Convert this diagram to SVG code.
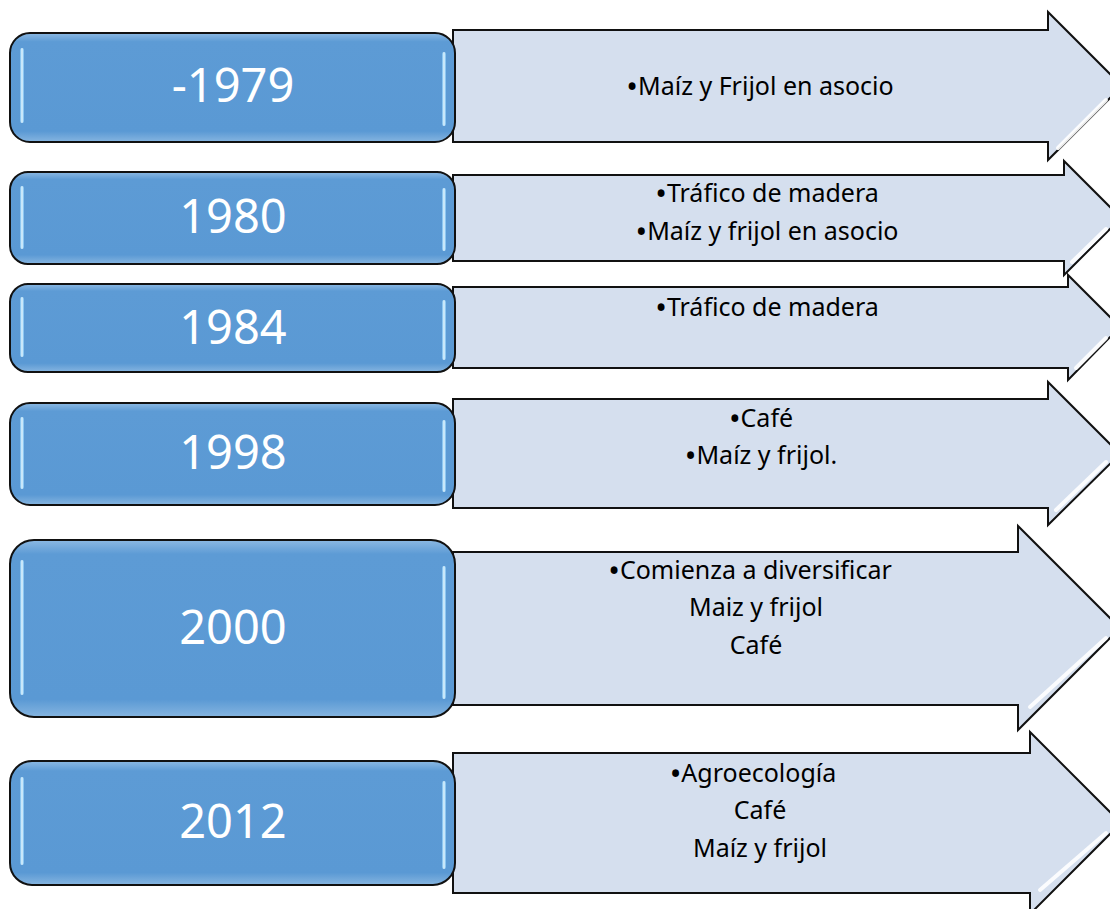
<svg xmlns="http://www.w3.org/2000/svg" width="1110" height="909" viewBox="0 0 1110 909">
<defs>
<linearGradient id="boxg" x1="0" y1="0" x2="0" y2="1">
<stop offset="0" stop-color="#8cb9e3"/>
<stop offset="0.08" stop-color="#5d9bd5"/>
<stop offset="0.9" stop-color="#5a99d4"/>
<stop offset="1" stop-color="#86b5e0"/>
</linearGradient>
<linearGradient id="barg" x1="0" y1="0" x2="1" y2="0">
<stop offset="0" stop-color="#6fb6ec"/>
<stop offset="0.5" stop-color="#e6f8ff"/>
<stop offset="1" stop-color="#6fb6ec"/>
</linearGradient>
<style>
.box{fill:url(#boxg);stroke:#111;stroke-width:2}
.bar{fill:url(#barg)}
.arr{fill:#d5dfee;stroke:#111;stroke-width:2;stroke-linejoin:miter}
.gl{fill:none;stroke:#ffffff;stroke-width:4;stroke-linecap:round;opacity:0.9}
.yr{font-family:"Noto Sans","Open Sans",sans-serif;font-size:47px;fill:#ffffff;text-anchor:middle}
.tx{font-family:"Noto Sans","Open Sans",sans-serif;font-size:25px;fill:#000000;text-anchor:middle}
.b{font-size:31px}
</style>
</defs>
<rect width="1110" height="909" fill="#ffffff"/>

<g id="row1">
<path class="arr" d="M453,30 H1048 V12 L1122,86 L1048,160 V142 H453 Z"/>
<path class="gl" d="M1058,148 L1106,100"/>
<rect class="box" x="10" y="33" width="445" height="109" rx="20"/>
<rect class="bar" x="20" y="48" width="4" height="75" rx="2"/>
<rect class="bar" x="442" y="52" width="4" height="74" rx="2"/>
<text class="yr" x="233" y="102">-1979</text>
<text class="tx" x="760" y="95"><tspan class="b" dy="3">•</tspan><tspan dy="-3">Maíz y Frijol en asocio</tspan></text>
</g>

<g id="row2">
<path class="arr" d="M453,175 H1064 V161 L1121,218 L1064,275 V261 H453 Z"/>
<path class="gl" d="M1072,262 L1106,229"/>
<rect class="box" x="10" y="172" width="445" height="92" rx="18"/>
<rect class="bar" x="20" y="186" width="4" height="63" rx="2"/>
<rect class="bar" x="442" y="188" width="4" height="63" rx="2"/>
<text class="yr" x="233" y="233">1980</text>
<text class="tx" x="767" y="202"><tspan class="b" dy="3">•</tspan><tspan dy="-3">Tráfico de madera</tspan></text>
<text class="tx" x="767" y="240"><tspan class="b" dy="3">•</tspan><tspan dy="-3">Maíz y frijol en asocio</tspan></text>
</g>

<g id="row3">
<path class="arr" d="M453,287 H1068 V275 L1120,327 L1068,380 V368 H453 Z"/>
<path class="gl" d="M1076,368 L1106,338"/>
<rect class="box" x="10" y="284" width="445" height="88" rx="18"/>
<rect class="bar" x="20" y="297" width="4" height="60" rx="2"/>
<rect class="bar" x="442" y="300" width="4" height="60" rx="2"/>
<text class="yr" x="233" y="344">1984</text>
<text class="tx" x="767" y="316"><tspan class="b" dy="3">•</tspan><tspan dy="-3">Tráfico de madera</tspan></text>
</g>

<g id="row4">
<path class="arr" d="M453,399 H1048 V382 L1120,454 L1048,525 V508 H453 Z"/>
<path class="gl" d="M1056,510 L1106,462"/>
<rect class="box" x="10" y="403" width="445" height="102" rx="20"/>
<rect class="bar" x="20" y="417" width="4" height="72" rx="2"/>
<rect class="bar" x="442" y="420" width="4" height="72" rx="2"/>
<text class="yr" x="233" y="469">1998</text>
<text class="tx" x="761" y="427"><tspan class="b" dy="3">•</tspan><tspan dy="-3">Café</tspan></text>
<text class="tx" x="761" y="464"><tspan class="b" dy="3">•</tspan><tspan dy="-3">Maíz y frijol.</tspan></text>
</g>

<g id="row5">
<path class="arr" d="M453,552 H1018 V526 L1120,628 L1018,730 V705 H453 Z"/>
<path class="gl" d="M1030,707 L1106,638"/>
<rect class="box" x="10" y="540" width="445" height="177" rx="24"/>
<rect class="bar" x="20" y="560" width="4" height="135" rx="2"/>
<rect class="bar" x="442" y="566" width="4" height="133" rx="2"/>
<text class="yr" x="233" y="644">2000</text>
<text class="tx" x="750" y="579"><tspan class="b" dy="3">•</tspan><tspan dy="-3">Comienza a diversificar</tspan></text>
<text class="tx" x="756" y="616">Maiz y frijol</text>
<text class="tx" x="756" y="654">Café</text>
</g>

<g id="row6">
<path class="arr" d="M453,753 H1030 V732 L1121,823 L1030,914 V893 H453 Z"/>
<path class="gl" d="M1040,890 L1106,833"/>
<rect class="box" x="10" y="761" width="445" height="124" rx="22"/>
<rect class="bar" x="20" y="777" width="4" height="88" rx="2"/>
<rect class="bar" x="442" y="781" width="4" height="88" rx="2"/>
<text class="yr" x="233" y="838">2012</text>
<text class="tx" x="753" y="782"><tspan class="b" dy="3">•</tspan><tspan dy="-3">Agroecología</tspan></text>
<text class="tx" x="760" y="819">Café</text>
<text class="tx" x="760" y="857">Maíz y frijol</text>
</g>

<g id="connectors"/>
</svg>
